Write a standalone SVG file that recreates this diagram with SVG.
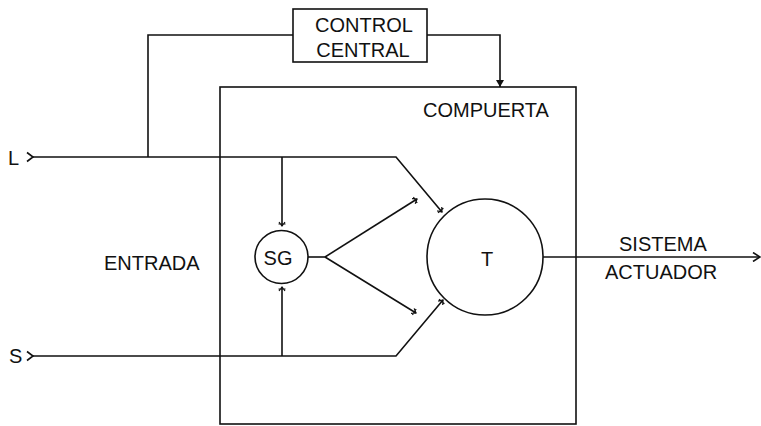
<svg xmlns="http://www.w3.org/2000/svg" width="761" height="426" viewBox="0 0 761 426">
<defs>
<style>
.ln{fill:none;stroke:#111;stroke-width:1.6}
.box{fill:none;stroke:#111;stroke-width:1.6}
.t{font-family:"Liberation Sans",Arial,sans-serif;font-size:20px;fill:#111}
</style>
<marker id="tick" viewBox="-8 -5 10 10" refX="0" refY="0" markerWidth="10" markerHeight="10" markerUnits="userSpaceOnUse" orient="auto">
<path d="M-4,-3 L0,0 L-4,3 M-2,-3.5 L-2,3.5" fill="none" stroke="#111" stroke-width="1.2"/>
</marker>
<marker id="fill" viewBox="-9 -5 10 10" refX="0" refY="0" markerWidth="10" markerHeight="10" markerUnits="userSpaceOnUse" orient="auto">
<path d="M-7,-4 L0,0 L-7,4 Z" fill="#111"/>
</marker>
<marker id="open" viewBox="-9 -5 10 10" refX="0" refY="0" markerWidth="10" markerHeight="10" markerUnits="userSpaceOnUse" orient="auto">
<path d="M-7,-4.5 L0,0 L-7,4.5" fill="none" stroke="#111" stroke-width="1.6"/>
</marker>
</defs>
<rect width="761" height="426" fill="#fff"/>

<g id="compuerta">
<rect class="box" x="220" y="87" width="356" height="337"/>
<text class="t" x="423" y="117">COMPUERTA</text>
</g>

<g id="control-central">
<rect class="box" x="293" y="9" width="134" height="53"/>
<text class="t" x="364" y="32" text-anchor="middle">CONTROL</text>
<text class="t" x="363" y="57" text-anchor="middle">CENTRAL</text>
</g>

<g id="sg">
<circle class="box" cx="281.5" cy="257" r="26.5"/>
<text class="t" x="278" y="265" text-anchor="middle">SG</text>
</g>

<g id="t">
<circle class="box" cx="485" cy="257" r="58"/>
<text class="t" x="487" y="266" text-anchor="middle">T</text>
</g>

<g id="labels">
<text class="t" x="8" y="165">L</text>
<text class="t" x="9" y="363">S</text>
<text class="t" x="104" y="270">ENTRADA</text>
<text class="t" x="619" y="251">SISTEMA</text>
<text class="t" x="605" y="279">ACTUADOR</text>
</g>

<g id="connectors">
<path class="ln" d="M27,152.5 L33,157 L27,161.5"/>
<path class="ln" d="M33,157 L396,157 L442,212" marker-end="url(#tick)"/>
<path class="ln" d="M27,351.5 L33,356 L27,360.5"/>
<path class="ln" d="M33,356 L396,356 L443,300" marker-end="url(#tick)"/>
<path class="ln" d="M148,157 L148,35 L293,35"/>
<path class="ln" d="M427,35 L500,35 L500,87" marker-end="url(#fill)"/>
<path class="ln" d="M282,157 L282,226" marker-end="url(#tick)"/>
<path class="ln" d="M282,356 L282,287" marker-end="url(#tick)"/>
<path class="ln" d="M308,257 L325,257"/>
<path class="ln" d="M325,257 L417,199" marker-end="url(#tick)"/>
<path class="ln" d="M325,257 L416,313" marker-end="url(#tick)"/>
<path class="ln" d="M543,257 L760,257" marker-end="url(#open)"/>
</g>
</svg>
